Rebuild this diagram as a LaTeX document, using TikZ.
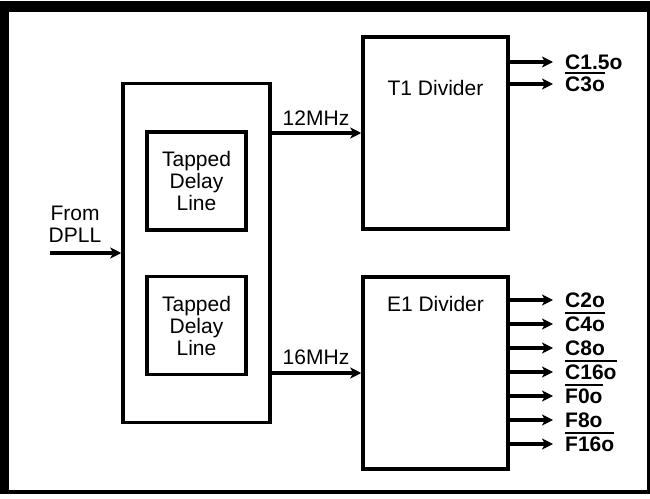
\documentclass[tikz,border=0pt]{standalone}
\usepackage{fontspec}
\setmainfont{Liberation Sans}
\usetikzlibrary{arrows.meta}
\newcommand{\barred}[1]{\setbox0=\hbox{#1}\rlap{\rule[\dimexpr\ht0+2.5pt\relax]{\wd0}{1.6pt}}\box0}

\begin{document}
\begin{tikzpicture}[x=1pt,y=-1pt,
  font=\fontsize{21}{22}\selectfont,
  blk/.style={draw,line width=3.5pt,inner sep=0pt},
  sig/.style={line width=3.5pt,-{Stealth[length=11pt,width=11pt,inset=3pt]}},
  outlbl/.style={anchor=base west,inner sep=0pt,font=\fontsize{21}{22}\selectfont\bfseries}]
% frame
\fill[white] (0,0) rectangle (650,498);
\fill[black] (0,1) rectangle (649.5,494);
\fill[white] (9,12) rectangle (647,490);
\useasboundingbox (0,0) rectangle (650,498);
% blocks
\node[blk,minimum width=147pt,minimum height=339pt] (pll) at (196.5,253) {};
\node[blk,minimum width=99pt,minimum height=98pt,align=center] (tdl1) at (196.5,181) {Tapped\\Delay\\Line};
\node[blk,minimum width=99pt,minimum height=98pt,align=center] (tdl2) at (196.5,325.5) {Tapped\\Delay\\Line};
\node[blk,minimum width=145pt,minimum height=192pt] (t1) at (435.5,133) {};
\node[blk,minimum width=145pt,minimum height=192pt] (e1) at (435.5,373) {};
\node (t1txt) at (435.5,88) {T1 Divider};
\node (e1txt) at (435.5,304) {E1 Divider};
% input
\node[align=center] (from) at (75,224.5) {From\\DPLL};
\coordinate (dpll) at (50,253);
\draw[sig] (dpll) -- (pll.west);
% clocks
\draw[sig] (pll.east |- t1.west) -- (t1.west);
\draw[sig] (pll.east |- e1.west) -- (e1.west);
\node (f12) at (316,118) {12MHz};
\node (f16) at (316,357) {16MHz};
% outputs
\foreach \i/\yy/\txt in {1/62/{C1.5o},2/84/{\barred{C3o}}} {
  \coordinate (t1o\i) at (t1.east |- 0,\yy);
  \coordinate (t1tip\i) at (553,\yy);
  \draw[sig] (t1o\i) -- (t1tip\i);
  \node[outlbl] (t1lbl\i) at ([xshift=12pt,yshift=-7pt]t1tip\i) {\txt};
}
\foreach \i/\yy/\txt in {1/300/{C2o},2/324/{\barred{C4o}},3/348/{C8o},
    4/372/{\barred{C16o}},5/396/{\barred{F0o}},6/420/{F8o},7/444/{\barred{F16o}}} {
  \coordinate (e1o\i) at (e1.east |- 0,\yy);
  \coordinate (e1tip\i) at (553,\yy);
  \draw[sig] (e1o\i) -- (e1tip\i);
  \node[outlbl] (e1lbl\i) at ([xshift=12pt,yshift=-7pt]e1tip\i) {\txt};
}
\end{tikzpicture}
\end{document}
